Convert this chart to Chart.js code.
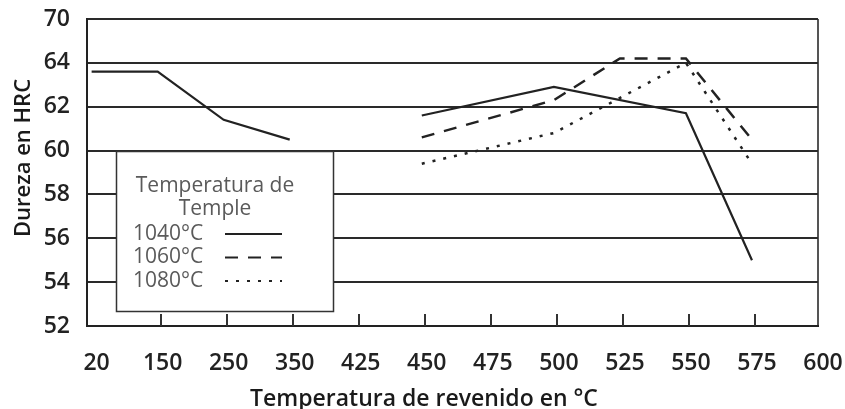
<!DOCTYPE html>
<html>
<head>
<meta charset="utf-8">
<script src="https://cdn.jsdelivr.net/npm/chart.js@4.4.1/dist/chart.umd.min.js"></script>
<style>
  html, body { margin: 0; padding: 0; background: #fff; }
  #wrap { width: 845px; height: 409px; position: relative; }
</style>
</head>
<body>
<div id="wrap"><canvas id="hardnessChart"></canvas></div>
<script>
// Temperatura de revenido (categorías del eje X, igualmente espaciadas)
const temps = ['20', '150', '250', '350', '425', '450', '475', '500', '525', '550', '575', '600'];
// Etiquetas del eje Y (el último tramo salta de 64 a 70)
const hrcTicks = ['52', '54', '56', '58', '60', '62', '64', '70'];
const seriesNames = ['1040°C', '1060°C', '1080°C'];
const xTitle = 'Temperatura de revenido en °C';
const yTitle = 'Dureza en HRC';

// Dureza HRC por temperatura de temple
const h1040 = [63.6, 63.6, 61.4, 60.5, null, 61.6, null, 62.9, null, 61.7, 55.0, null];
const h1060 = [null, null, null, null, null, 60.6, null, 62.3, 64.2, 64.2, 60.5, null];
const h1080 = [null, null, null, null, null, 59.4, null, 60.8, null, 64.0, 59.4, null];
// the 1040 curve is broken at 425
const split1040 = 4;

const ink = '#222';
const dashes = [[], [13, 10], [3, 8]];

// category slot -> point
const toPoints = arr => arr.map((v, i) => ({ x: i, y: v }));

// tick marks standing up from the x axis, axis titles and the legend box
const extras = {
    id: 'extras',
    afterDatasetsDraw(chart) {
        const ctx = chart.ctx;
        const area = chart.chartArea;
        const x = chart.scales.x;
        ctx.save();
        ctx.strokeStyle = '#333';
        ctx.lineWidth = 2;
        for (let i = 1; i < temps.length - 1; i++) {
            const px = Math.round(x.getPixelForValue(i)) + 3;
            ctx.beginPath();
            ctx.moveTo(px, area.bottom);
            ctx.lineTo(px, area.bottom - 12);
            ctx.stroke();
        }

        // axis titles (not centred on the axes in the original)
        ctx.fillStyle = '#1a1a1a';
        ctx.font = '600 23px "Open Sans"';
        ctx.textAlign = 'center';
        ctx.textBaseline = 'alphabetic';
        ctx.fillText(xTitle, 424, 406);
        ctx.save();
        ctx.translate(30, 158);
        ctx.rotate(-Math.PI / 2);
        ctx.font = '600 22px "Open Sans"';
        ctx.fillText(yTitle, 0, 0);
        ctx.restore();

        // legend
        const bx = area.left + 29, by = 151, bw = 217, bh = 160;
        ctx.fillStyle = '#fff';
        ctx.fillRect(bx, by, bw, bh);
        ctx.strokeStyle = '#333';
        ctx.lineWidth = 1.5;
        ctx.strokeRect(bx + 0.5, by + 0.5, bw, bh);

        ctx.fillStyle = '#5a5a5a';
        ctx.font = '21px "Open Sans"';
        ctx.textAlign = 'center';
        ctx.textBaseline = 'middle';
        ctx.fillText('Temperatura de', bx + 99, by + 35);
        ctx.fillText('Temple', bx + 99, by + 58);

        ctx.textAlign = 'left';
        ctx.strokeStyle = ink;
        ctx.lineWidth = 2;
        seriesNames.forEach((name, i) => {
            const ry = by + 83 + i * 23.5;
            ctx.fillText(name, bx + 17, ry);
            ctx.setLineDash(dashes[i]);
            ctx.beginPath();
            ctx.moveTo(bx + 109, ry);
            ctx.lineTo(bx + 166, ry);
            ctx.stroke();
        });
        ctx.restore();
    }
};

const ctx = document.getElementById('hardnessChart').getContext('2d');
new Chart(ctx, {
    type: 'line',
    data: {
        datasets: [
            {
                label: seriesNames[0],
                data: toPoints(h1040.map((v, i) => (i < split1040 ? v : null))),
                borderColor: ink,
                borderWidth: 2.2
            },
            {
                label: seriesNames[0],
                data: toPoints(h1040.map((v, i) => (i > split1040 ? v : null))),
                borderColor: ink,
                borderWidth: 2.2,
                spanGaps: true
            },
            {
                label: seriesNames[1],
                data: toPoints(h1060),
                borderColor: ink,
                borderWidth: 2.5,
                borderDash: dashes[1],
                spanGaps: true
            },
            {
                label: seriesNames[2],
                data: toPoints(h1080),
                borderColor: ink,
                borderWidth: 2.5,
                borderDash: dashes[2],
                spanGaps: true
            }
        ]
    },
    options: {
        responsive: true,
        maintainAspectRatio: false,
        animation: false,
        layout: { padding: { top: 19, right: 27, left: 0, bottom: 0 } },
        elements: { point: { radius: 0 }, line: { tension: 0 } },
        plugins: {
            legend: { display: false },
            tooltip: { enabled: false }
        },
        scales: {
            x: {
                type: 'linear',
                min: -0.07,
                max: temps.length - 1,
                afterBuildTicks: s => { s.ticks = temps.map((t, i) => ({ value: i })); },
                afterFit: s => {
                    s.height = 83;
                    s.paddingLeft = 0;
                    s.paddingRight = 0;
                },
                grid: {
                    drawTicks: false,
                    color: c => (c.tick && c.tick.value === temps.length - 1 ? '#555' : 'rgba(0,0,0,0)'),
                    lineWidth: 2
                },
                border: { color: ink, width: 2 },
                ticks: {
                    color: ink,
                    padding: 24,
                    labelOffset: 5,
                    maxRotation: 0,
                    autoSkip: false,
                    callback: v => temps[v],
                    font: { family: '"Open Sans"', size: 23, weight: '600' }
                }
            },
            y: {
                min: 52,
                max: 66,
                afterFit: s => {
                    s.width = 87;
                    s.paddingTop = 0;
                    s.paddingBottom = 0;
                },
                grid: { drawTicks: false, color: '#2a2a2a', lineWidth: 2 },
                border: { color: ink, width: 2 },
                ticks: {
                    stepSize: 2,
                    color: ink,
                    padding: 17,
                    callback: (v, i) => hrcTicks[i],
                    font: { family: '"Open Sans"', size: 23, weight: '600' }
                }
            }
        }
    },
    plugins: [extras]
});
</script>
</body>
</html>
